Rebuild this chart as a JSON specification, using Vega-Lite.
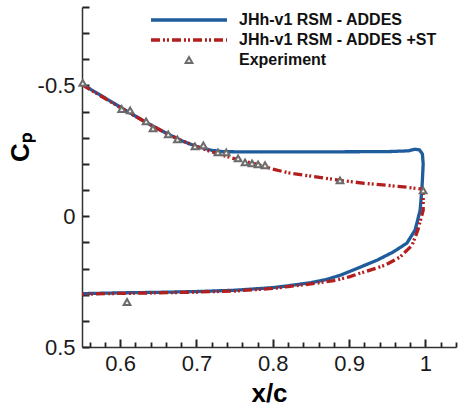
{
  "$schema": "https://vega.github.io/schema/vega-lite/v6.json",
  "width": 374,
  "height": 340,
  "autosize": {"type": "none"},
  "padding": {"left": 82, "top": 7, "right": 2, "bottom": 59},
  "config": {"view": {"stroke": null}, "axis": {"grid": false}},
  "datasets": {
    "lines": [
      {"series": "JHh-v1 RSM - ADDES", "i": 0, "x": 0.55, "cp": -0.505},
      {"series": "JHh-v1 RSM - ADDES", "i": 1, "x": 0.57, "cp": -0.47},
      {"series": "JHh-v1 RSM - ADDES", "i": 2, "x": 0.59, "cp": -0.435},
      {"series": "JHh-v1 RSM - ADDES", "i": 3, "x": 0.61, "cp": -0.4},
      {"series": "JHh-v1 RSM - ADDES", "i": 4, "x": 0.635, "cp": -0.357},
      {"series": "JHh-v1 RSM - ADDES", "i": 5, "x": 0.66, "cp": -0.318},
      {"series": "JHh-v1 RSM - ADDES", "i": 6, "x": 0.68, "cp": -0.289},
      {"series": "JHh-v1 RSM - ADDES", "i": 7, "x": 0.7, "cp": -0.267},
      {"series": "JHh-v1 RSM - ADDES", "i": 8, "x": 0.72, "cp": -0.252},
      {"series": "JHh-v1 RSM - ADDES", "i": 9, "x": 0.735, "cp": -0.247},
      {"series": "JHh-v1 RSM - ADDES", "i": 10, "x": 0.76, "cp": -0.246},
      {"series": "JHh-v1 RSM - ADDES", "i": 11, "x": 0.85, "cp": -0.246},
      {"series": "JHh-v1 RSM - ADDES", "i": 12, "x": 0.95, "cp": -0.247},
      {"series": "JHh-v1 RSM - ADDES", "i": 13, "x": 0.978, "cp": -0.25},
      {"series": "JHh-v1 RSM - ADDES", "i": 14, "x": 0.986, "cp": -0.256},
      {"series": "JHh-v1 RSM - ADDES", "i": 15, "x": 0.992, "cp": -0.254},
      {"series": "JHh-v1 RSM - ADDES", "i": 16, "x": 0.996, "cp": -0.238},
      {"series": "JHh-v1 RSM - ADDES", "i": 17, "x": 0.997, "cp": -0.2},
      {"series": "JHh-v1 RSM - ADDES", "i": 18, "x": 0.996, "cp": -0.14},
      {"series": "JHh-v1 RSM - ADDES", "i": 19, "x": 0.9952, "cp": -0.099},
      {"series": "JHh-v1 RSM - ADDES", "i": 20, "x": 0.993, "cp": -0.023},
      {"series": "JHh-v1 RSM - ADDES", "i": 21, "x": 0.9864, "cp": 0.053},
      {"series": "JHh-v1 RSM - ADDES", "i": 22, "x": 0.9756, "cp": 0.103},
      {"series": "JHh-v1 RSM - ADDES", "i": 23, "x": 0.9576, "cp": 0.137},
      {"series": "JHh-v1 RSM - ADDES", "i": 24, "x": 0.9366, "cp": 0.168},
      {"series": "JHh-v1 RSM - ADDES", "i": 25, "x": 0.9143, "cp": 0.195},
      {"series": "JHh-v1 RSM - ADDES", "i": 26, "x": 0.9, "cp": 0.212},
      {"series": "JHh-v1 RSM - ADDES", "i": 27, "x": 0.888, "cp": 0.226},
      {"series": "JHh-v1 RSM - ADDES", "i": 28, "x": 0.87, "cp": 0.242},
      {"series": "JHh-v1 RSM - ADDES", "i": 29, "x": 0.85, "cp": 0.254},
      {"series": "JHh-v1 RSM - ADDES", "i": 30, "x": 0.82, "cp": 0.266},
      {"series": "JHh-v1 RSM - ADDES", "i": 31, "x": 0.8, "cp": 0.273},
      {"series": "JHh-v1 RSM - ADDES", "i": 32, "x": 0.75, "cp": 0.283},
      {"series": "JHh-v1 RSM - ADDES", "i": 33, "x": 0.7, "cp": 0.288},
      {"series": "JHh-v1 RSM - ADDES", "i": 34, "x": 0.65, "cp": 0.291},
      {"series": "JHh-v1 RSM - ADDES", "i": 35, "x": 0.6, "cp": 0.293},
      {"series": "JHh-v1 RSM - ADDES", "i": 36, "x": 0.55, "cp": 0.296},
      {"series": "JHh-v1 RSM - ADDES +ST", "i": 0, "x": 0.55, "cp": -0.503},
      {"series": "JHh-v1 RSM - ADDES +ST", "i": 1, "x": 0.57, "cp": -0.468},
      {"series": "JHh-v1 RSM - ADDES +ST", "i": 2, "x": 0.59, "cp": -0.433},
      {"series": "JHh-v1 RSM - ADDES +ST", "i": 3, "x": 0.61, "cp": -0.399},
      {"series": "JHh-v1 RSM - ADDES +ST", "i": 4, "x": 0.635, "cp": -0.357},
      {"series": "JHh-v1 RSM - ADDES +ST", "i": 5, "x": 0.66, "cp": -0.318},
      {"series": "JHh-v1 RSM - ADDES +ST", "i": 6, "x": 0.68, "cp": -0.29},
      {"series": "JHh-v1 RSM - ADDES +ST", "i": 7, "x": 0.7, "cp": -0.266},
      {"series": "JHh-v1 RSM - ADDES +ST", "i": 8, "x": 0.72, "cp": -0.246},
      {"series": "JHh-v1 RSM - ADDES +ST", "i": 9, "x": 0.74, "cp": -0.228},
      {"series": "JHh-v1 RSM - ADDES +ST", "i": 10, "x": 0.76, "cp": -0.212},
      {"series": "JHh-v1 RSM - ADDES +ST", "i": 11, "x": 0.78, "cp": -0.198},
      {"series": "JHh-v1 RSM - ADDES +ST", "i": 12, "x": 0.8, "cp": -0.18},
      {"series": "JHh-v1 RSM - ADDES +ST", "i": 13, "x": 0.82, "cp": -0.166},
      {"series": "JHh-v1 RSM - ADDES +ST", "i": 14, "x": 0.85, "cp": -0.153},
      {"series": "JHh-v1 RSM - ADDES +ST", "i": 15, "x": 0.888, "cp": -0.137},
      {"series": "JHh-v1 RSM - ADDES +ST", "i": 16, "x": 0.92, "cp": -0.126},
      {"series": "JHh-v1 RSM - ADDES +ST", "i": 17, "x": 0.95, "cp": -0.118},
      {"series": "JHh-v1 RSM - ADDES +ST", "i": 18, "x": 0.975, "cp": -0.111},
      {"series": "JHh-v1 RSM - ADDES +ST", "i": 19, "x": 0.994, "cp": -0.104},
      {"series": "JHh-v1 RSM - ADDES +ST", "i": 20, "x": 0.997, "cp": -0.088},
      {"series": "JHh-v1 RSM - ADDES +ST", "i": 21, "x": 0.997, "cp": -0.023},
      {"series": "JHh-v1 RSM - ADDES +ST", "i": 22, "x": 0.99, "cp": 0.053},
      {"series": "JHh-v1 RSM - ADDES +ST", "i": 23, "x": 0.9825, "cp": 0.111},
      {"series": "JHh-v1 RSM - ADDES +ST", "i": 24, "x": 0.9668, "cp": 0.156},
      {"series": "JHh-v1 RSM - ADDES +ST", "i": 25, "x": 0.9471, "cp": 0.187},
      {"series": "JHh-v1 RSM - ADDES +ST", "i": 26, "x": 0.9275, "cp": 0.206},
      {"series": "JHh-v1 RSM - ADDES +ST", "i": 27, "x": 0.9143, "cp": 0.218},
      {"series": "JHh-v1 RSM - ADDES +ST", "i": 28, "x": 0.9, "cp": 0.232},
      {"series": "JHh-v1 RSM - ADDES +ST", "i": 29, "x": 0.88, "cp": 0.246},
      {"series": "JHh-v1 RSM - ADDES +ST", "i": 30, "x": 0.85, "cp": 0.259},
      {"series": "JHh-v1 RSM - ADDES +ST", "i": 31, "x": 0.82, "cp": 0.269},
      {"series": "JHh-v1 RSM - ADDES +ST", "i": 32, "x": 0.8, "cp": 0.276},
      {"series": "JHh-v1 RSM - ADDES +ST", "i": 33, "x": 0.75, "cp": 0.286},
      {"series": "JHh-v1 RSM - ADDES +ST", "i": 34, "x": 0.7, "cp": 0.29},
      {"series": "JHh-v1 RSM - ADDES +ST", "i": 35, "x": 0.65, "cp": 0.293},
      {"series": "JHh-v1 RSM - ADDES +ST", "i": 36, "x": 0.6, "cp": 0.295},
      {"series": "JHh-v1 RSM - ADDES +ST", "i": 37, "x": 0.55, "cp": 0.298}
    ],
    "exp": [
      {"x": 0.551, "cp": -0.51},
      {"x": 0.602, "cp": -0.41},
      {"x": 0.613, "cp": -0.405},
      {"x": 0.634, "cp": -0.363},
      {"x": 0.643, "cp": -0.336},
      {"x": 0.663, "cp": -0.313},
      {"x": 0.675, "cp": -0.294},
      {"x": 0.698, "cp": -0.267},
      {"x": 0.709, "cp": -0.271},
      {"x": 0.728, "cp": -0.244},
      {"x": 0.739, "cp": -0.244},
      {"x": 0.7545, "cp": -0.221},
      {"x": 0.7636, "cp": -0.206},
      {"x": 0.7728, "cp": -0.202},
      {"x": 0.7807, "cp": -0.198},
      {"x": 0.7898, "cp": -0.195},
      {"x": 0.888, "cp": -0.137},
      {"x": 0.997, "cp": -0.099},
      {"x": 0.609, "cp": 0.328}
    ]
  },
  "resolve": {"axis": {"x": "independent", "y": "independent"}},
  "layer": [
    {
      "data": {"name": "lines"},
      "mark": {"type": "line", "strokeWidth": 3.3},
      "encoding": {
        "x": {
          "field": "x",
          "type": "quantitative",
          "scale": {"domain": [0.55, 1.04], "nice": false, "zero": false},
          "axis": {
            "orient": "bottom",
            "title": "x/c",
            "values": [0.6, 0.7, 0.8, 0.9, 1],
            "format": "~g",
            "domainColor": "#333333",
            "domainWidth": 1.5,
            "tickSize": -8,
            "tickColor": "#222222",
            "tickWidth": 2,
            "labelFont": "Liberation Sans",
            "labelFontSize": 22,
            "labelColor": "#1a1a1a",
            "labelPadding": 14,
            "titleFont": "Liberation Sans",
            "titleFontWeight": "bold",
            "titleColor": "#000000",
            "titleFontSize": 26,
            "titleX": 187,
            "titleY": 46,
            "titleBaseline": "middle"
          }
        },
        "y": {
          "field": "cp",
          "type": "quantitative",
          "scale": {"domain": [-0.8, 0.5], "reverse": true, "nice": false, "zero": false},
          "axis": {
            "orient": "left",
            "title": "Cₚ",
            "values": [-0.8, -0.7, -0.6, -0.5, -0.4, -0.3, -0.2, -0.1, 0, 0.1, 0.2, 0.3, 0.4, 0.5],
            "labelExpr": "abs(datum.value*2 - round(datum.value*2)) < 0.000001 ? (datum.value < 0 ? '-' + format(-datum.value, '~g') : format(datum.value, '~g')) : ''",
            "domainColor": "#333333",
            "domainWidth": 1.5,
            "tickSize": -7,
            "tickColor": "#222222",
            "tickWidth": 2,
            "labelFont": "Liberation Sans",
            "labelFontSize": 22,
            "labelColor": "#1a1a1a",
            "labelPadding": 14,
            "titleFont": "Liberation Sans",
            "titleFontWeight": "bold",
            "titleColor": "#000000",
            "titleFontSize": 26,
            "titleX": -62,
            "titleY": 140,
            "titleAngle": -90,
            "titleBaseline": "middle",
            "titleAlign": "center"
          }
        },
        "color": {
          "field": "series",
          "type": "nominal",
          "scale": {"domain": ["JHh-v1 RSM - ADDES", "JHh-v1 RSM - ADDES +ST", "Experiment"], "range": ["#1f5c9c", "#b31e1e", "#6b6b6b"]},
          "legend": {
            "orient": "none",
            "legendX": 99,
            "legendY": 5,
            "title": null,
            "padding": 0,
            "labelFont": "Liberation Sans",
            "labelFontSize": 16,
            "labelFontWeight": "bold",
            "labelColor": "#111111",
            "labelLimit": 0,
            "labelOffset": 42,
            "rowPadding": 4,
            "symbolType": "stroke",
            "symbolSize": 5776,
            "symbolStrokeWidth": 3.5,
            "encode": {
              "symbols": {
                "update": {
                  "shape": {"signal": "datum.value === 'Experiment' ? 'triangle-up' : 'stroke'"},
                  "size": {"signal": "datum.value === 'Experiment' ? 45 : 5776"},
                  "strokeDash": {"signal": "datum.value === 'JHh-v1 RSM - ADDES +ST' ? [9, 3, 2, 2, 2, 3] : [1, 0]"},
                  "strokeWidth": {"signal": "datum.value === 'Experiment' ? 2 : 3.5"},
                  "fill": {"signal": "datum.value === 'Experiment' ? '#f2f2f2' : 'transparent'"}
                }
              }
            }
          }
        },
        "strokeDash": {
          "field": "series",
          "type": "nominal",
          "scale": {"domain": ["JHh-v1 RSM - ADDES", "JHh-v1 RSM - ADDES +ST"], "range": [[1, 0], [9, 3, 2, 2, 2, 3]]},
          "legend": null
        },
        "order": {"field": "i", "type": "quantitative"}
      }
    },
    {
      "data": {"name": "exp"},
      "mark": {"type": "point", "shape": "triangle-up", "size": 45, "filled": true, "fill": "#f2f2f2", "stroke": "#6b6b6b", "strokeWidth": 2, "opacity": 1},
      "encoding": {
        "x": {
          "field": "x",
          "type": "quantitative",
          "axis": {
            "orient": "top",
            "offset": -340,
            "title": null,
            "labels": false,
            "domain": false,
            "tickSize": 5,
            "tickColor": "#222222",
            "tickWidth": 1.8,
            "values": [0.56, 0.58, 0.62, 0.64, 0.66, 0.68, 0.72, 0.74, 0.76, 0.78, 0.82, 0.84, 0.86, 0.88, 0.92, 0.94, 0.96, 0.98, 1.02, 1.04]
          }
        },
        "y": {
          "field": "cp",
          "type": "quantitative",
          "axis": null
        }
      }
    }
  ]
}
